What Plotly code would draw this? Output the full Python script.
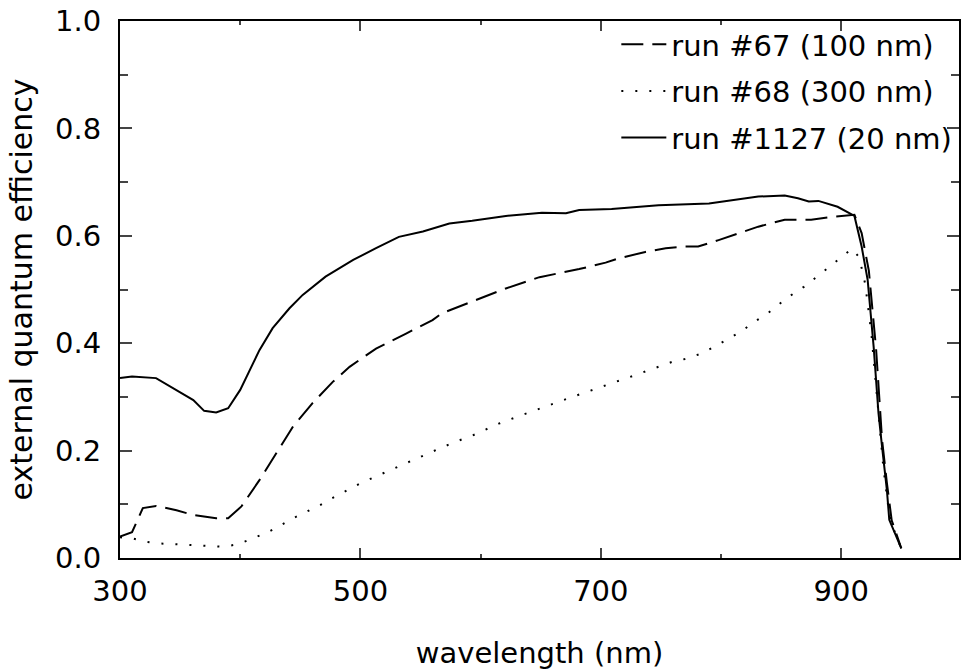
import plotly.graph_objects as go

# run #1127 (20 nm) - solid
wl_1127 = [300, 310, 330, 361, 370, 380, 390, 400, 416, 427, 441, 452, 471, 494, 513,
           532, 552, 566, 574, 593, 621, 637, 651, 671, 682, 709, 748, 790, 831, 853,
           864, 873, 881, 897, 911, 917, 922, 927, 931, 934, 938, 940, 950]
qe_1127 = [0.335, 0.338, 0.335, 0.294, 0.274, 0.271, 0.279, 0.313, 0.387, 0.428, 0.465,
           0.49, 0.524, 0.555, 0.577, 0.598, 0.608, 0.617, 0.623, 0.628, 0.637, 0.640,
           0.643, 0.642, 0.648, 0.650, 0.657, 0.660, 0.673, 0.675, 0.670, 0.664, 0.665,
           0.654, 0.637, 0.58, 0.518, 0.393, 0.27, 0.207, 0.127, 0.071, 0.018]

# run #67 (100 nm) - dashed
wl_67 = [300, 310, 319, 330, 347, 361, 380, 390, 401, 416, 430, 444, 460, 477, 491,
         513, 538, 560, 568, 582, 593, 621, 649, 665, 682, 704, 715, 737, 754, 770,
         781, 798, 815, 831, 853, 875, 895, 911, 917, 923, 929, 934, 938, 942, 950]
qe_67 = [0.04, 0.048, 0.093, 0.097, 0.089, 0.08, 0.074, 0.074, 0.096, 0.145, 0.195,
         0.245, 0.288, 0.328, 0.356, 0.39, 0.418, 0.443, 0.456, 0.468, 0.478, 0.502,
         0.523, 0.53, 0.538, 0.55, 0.558, 0.570, 0.577, 0.58, 0.58, 0.592, 0.605,
         0.617, 0.63, 0.63, 0.636, 0.639, 0.605, 0.535, 0.39, 0.22, 0.14, 0.07, 0.018]

# run #68 (300 nm) - dotted
wl_68 = [300, 310, 322, 333, 347, 360, 372, 386, 398, 409, 422, 433, 444, 455, 466,
         477, 488, 499, 511, 522, 534, 545, 557, 569, 581, 593, 604, 616, 628, 640,
         652, 664, 675, 688, 699, 711, 723, 735, 747, 759, 771, 784, 795, 806, 817,
         827, 838, 848, 858, 869, 879, 889, 899, 909, 915, 920, 925, 930, 935, 940,
         945, 950]
qe_68 = [0.0385, 0.0366, 0.030, 0.027, 0.0255, 0.0243, 0.0224, 0.021, 0.0255, 0.035,
         0.047, 0.060, 0.074, 0.086, 0.098, 0.112, 0.125, 0.138, 0.15, 0.161, 0.172,
         0.183, 0.195, 0.207, 0.218, 0.228, 0.239, 0.251, 0.261, 0.271, 0.281, 0.29,
         0.299, 0.309, 0.317, 0.327, 0.336, 0.346, 0.355, 0.365, 0.371, 0.381, 0.394,
         0.408, 0.422, 0.439, 0.454, 0.472, 0.489, 0.505, 0.522, 0.54, 0.558, 0.576,
         0.56, 0.51, 0.42, 0.29, 0.17, 0.08, 0.045, 0.018]

font = "DejaVu Sans"

fig = go.Figure()
fig.add_trace(go.Scatter(x=wl_67, y=qe_67, mode="lines", name="run #67 (100 nm)",
                         legendgroup="a",
                         line=dict(color="black", width=2, dash="22px,9px")))
fig.add_trace(go.Scatter(x=wl_68, y=qe_68, mode="lines", name="run #68 (300 nm)",
                         legendgroup="b",
                         line=dict(color="black", width=2, dash="2px,12px")))
fig.add_trace(go.Scatter(x=wl_1127, y=qe_1127, mode="lines", name="run #1127 (20 nm)",
                         legendgroup="c",
                         line=dict(color="black", width=2)))

fig.update_layout(
    width=961, height=670,
    margin=dict(l=120, r=0, t=21, b=112),
    paper_bgcolor="white", plot_bgcolor="white",
    font=dict(family=font, size=29, color="black"),
    showlegend=True,
    legend=dict(x=0.998, y=1.004, xanchor="right", yanchor="top",
                bgcolor="rgba(0,0,0,0)", itemwidth=45, tracegroupgap=6,
                font=dict(family=font, size=29)),
)

fig.update_xaxes(
    range=[300, 998], tick0=300, dtick=200, ticks="inside", ticklen=10, tickwidth=2,
    showline=True, linewidth=2, linecolor="black", mirror="ticks",
    showgrid=False, zeroline=False, ticklabelstandoff=6,
    minor=dict(dtick=100, ticks="inside", ticklen=4, tickwidth=2, showgrid=False),
    title=dict(text="wavelength (nm)", standoff=38, font=dict(size=29)),
)
fig.update_yaxes(
    range=[0, 1.0], tick0=0, dtick=0.2, tickformat=".1f", ticks="inside", ticklen=12,
    tickwidth=2, showline=True, linewidth=2, linecolor="black", mirror="ticks",
    showgrid=False, zeroline=False, ticklabelstandoff=11,
    minor=dict(dtick=0.1, ticks="inside", ticklen=8, tickwidth=2, showgrid=False),
    title=dict(text="external quantum efficiency", standoff=14, font=dict(size=30)),
)

# drop the browser's default body margin so the figure fills the window
fig.write_html("out.html", config={"displayModeBar": False},
               post_script="document.body.style.margin='0';"
                           "document.body.style.overflow='hidden';")
